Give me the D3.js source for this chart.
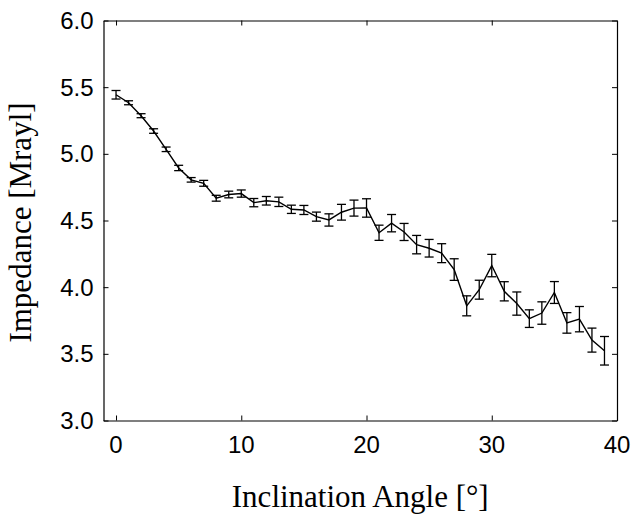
<!DOCTYPE html>
<html>
<head>
<meta charset="utf-8">
<script src="https://cdn.jsdelivr.net/npm/d3@7"></script>
<style>
  html, body { margin: 0; padding: 0; background: #fff; }
  svg { display: block; }
  .tick-label { font-family: "Liberation Sans", Arial, sans-serif; font-size: 24px; fill: #000; }
  .title { font-family: "Liberation Serif", "Times New Roman", serif; font-size: 31px; fill: #000; }
</style>
</head>
<body>
<div id="chart"></div>
<script>
// Inclination angle (deg) vs. measured impedance (Mrayl), mean +/- error
const angles = [0, 1, 2, 3, 4, 5, 6, 7, 8, 9,
                10, 11, 12, 13, 14, 15, 16, 17, 18, 19,
                20, 21, 22, 23, 24, 25, 26, 27, 28, 29,
                30, 31, 32, 33, 34, 35, 36, 37, 38, 39];
const impedance = [5.443, 5.383, 5.286, 5.171, 5.034, 4.894, 4.805, 4.779, 4.667, 4.695,
                   4.702, 4.634, 4.648, 4.640, 4.584, 4.579, 4.529, 4.504, 4.562, 4.593,
                   4.594, 4.408, 4.480, 4.414, 4.319, 4.292, 4.255, 4.132, 3.860, 3.981,
                   4.162, 3.969, 3.877, 3.764, 3.806, 3.960, 3.732, 3.760, 3.603, 3.523];
const errors = [0.032, 0.015, 0.015, 0.017, 0.017, 0.020, 0.017, 0.022, 0.022, 0.025,
                0.027, 0.031, 0.032, 0.035, 0.031, 0.034, 0.034, 0.046, 0.059, 0.060,
                0.069, 0.057, 0.065, 0.064, 0.069, 0.066, 0.071, 0.081, 0.075, 0.071,
                0.084, 0.072, 0.087, 0.066, 0.084, 0.082, 0.077, 0.095, 0.090, 0.107];
const xTicks = [0, 10, 20, 30, 40];
const yTicks = [3.0, 3.5, 4.0, 4.5, 5.0, 5.5, 6.0];

const width = 636, height = 516;
const margin = { top: 20.5, right: 19, bottom: 95.5, left: 103.5 };
const innerW = width - margin.left - margin.right;
const innerH = height - margin.top - margin.bottom;

const points = angles.map((a, i) => ({ x: a, y: impedance[i], e: errors[i] }));

const svg = d3.select('#chart').append('svg')
  .attr('width', width).attr('height', height);
const g = svg.append('g').attr('transform', `translate(${margin.left},${margin.top})`);

const x = d3.scaleLinear().domain([-1, 40]).range([0, innerW]);
const y = d3.scaleLinear().domain([3, 6]).range([innerH, 0]);

// MATLAB-style boxed axes: inward ticks mirrored on all four sides
const tickLen = 5;
const noLabels = () => '';
g.append('g').attr('transform', `translate(0,${innerH})`)
  .call(d3.axisBottom(x).tickValues(xTicks).tickSizeInner(-tickLen).tickSizeOuter(0).tickFormat(noLabels));
g.append('g')
  .call(d3.axisTop(x).tickValues(xTicks).tickSizeInner(-tickLen).tickSizeOuter(0).tickFormat(noLabels));
g.append('g')
  .call(d3.axisLeft(y).tickValues(yTicks).tickSizeInner(-tickLen).tickSizeOuter(0).tickFormat(noLabels));
g.append('g').attr('transform', `translate(${innerW},0)`)
  .call(d3.axisRight(y).tickValues(yTicks).tickSizeInner(-tickLen).tickSizeOuter(0).tickFormat(noLabels));
g.selectAll('.domain').attr('stroke', '#000').attr('stroke-width', 1.2);
g.selectAll('.tick line').attr('stroke', '#000').attr('stroke-width', 1);

// tick labels
g.selectAll('.xlab').data(xTicks).enter().append('text')
  .attr('class', 'tick-label')
  .attr('x', d => x(d)).attr('y', innerH + 32)
  .attr('text-anchor', 'middle')
  .text(d => d);
g.selectAll('.ylab').data(yTicks).enter().append('text')
  .attr('class', 'tick-label')
  .attr('x', -10).attr('y', d => y(d) + 8.5)
  .attr('text-anchor', 'end')
  .text(d => d3.format('.1f')(d));

// error bars
const cap = 4.5;
const bars = g.append('g').attr('stroke', '#000').attr('stroke-width', 1.3);
bars.selectAll('.stem').data(points).enter().append('line')
  .attr('x1', d => x(d.x)).attr('x2', d => x(d.x))
  .attr('y1', d => y(d.y - d.e)).attr('y2', d => y(d.y + d.e));
bars.selectAll('.capTop').data(points).enter().append('line')
  .attr('x1', d => x(d.x) - cap).attr('x2', d => x(d.x) + cap)
  .attr('y1', d => y(d.y + d.e)).attr('y2', d => y(d.y + d.e));
bars.selectAll('.capBot').data(points).enter().append('line')
  .attr('x1', d => x(d.x) - cap).attr('x2', d => x(d.x) + cap)
  .attr('y1', d => y(d.y - d.e)).attr('y2', d => y(d.y - d.e));

// mean line
g.append('path').datum(points)
  .attr('fill', 'none').attr('stroke', '#000').attr('stroke-width', 1.4)
  .attr('d', d3.line().x(d => x(d.x)).y(d => y(d.y)));

// axis titles
svg.append('text').attr('class', 'title')
  .attr('x', margin.left + innerW / 2).attr('y', 507)
  .attr('text-anchor', 'middle')
  .text('Inclination Angle [°]');
svg.append('text').attr('class', 'title')
  .attr('transform', `translate(31,${margin.top + innerH / 2 + 2}) rotate(-90)`)
  .attr('text-anchor', 'middle')
  .text('Impedance [Mrayl]');
</script>
</body>
</html>
